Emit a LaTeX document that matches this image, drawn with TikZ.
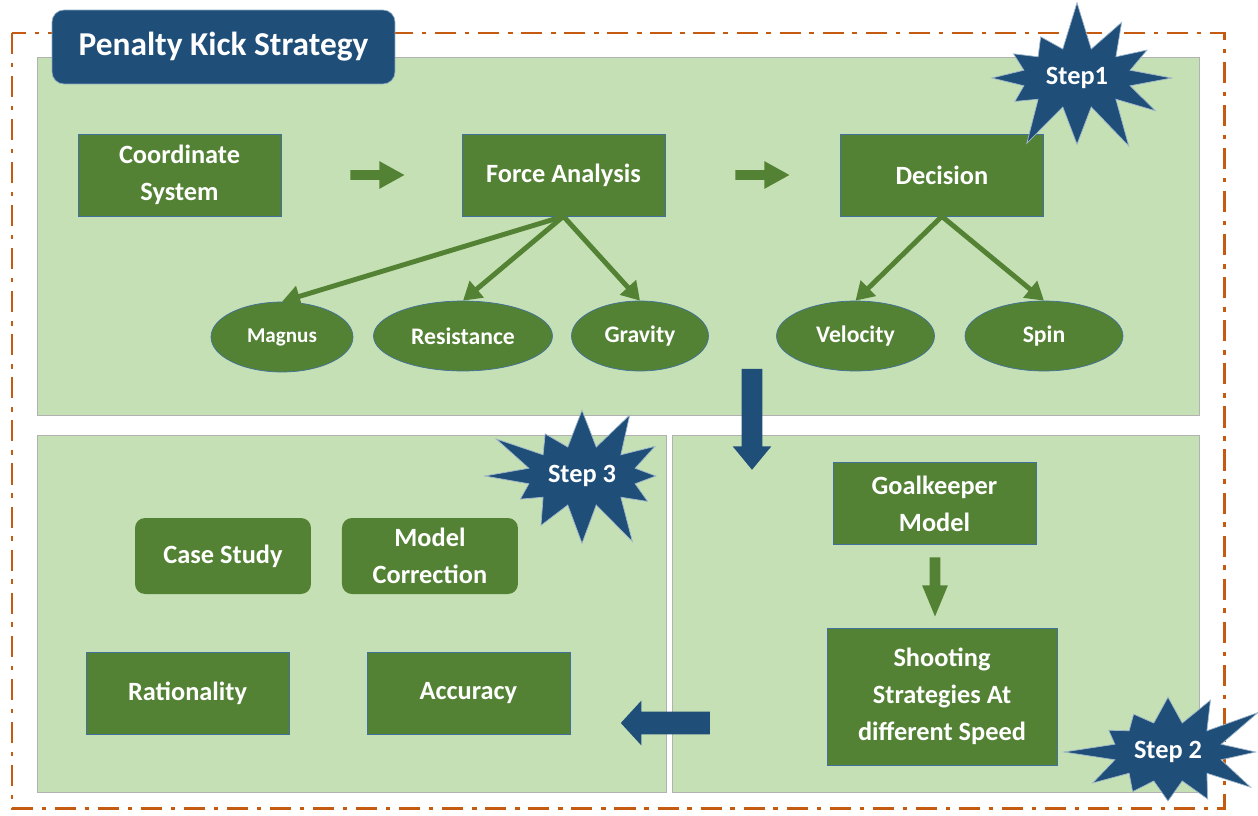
\documentclass[tikz,border=0pt]{standalone}
\usepackage{fontspec}
\setmainfont{Carlito}
\usetikzlibrary{arrows.meta, positioning, shapes.geometric, shapes.arrows, shapes.symbols}

\definecolor{panel}{HTML}{C5E0B4}
\definecolor{leaf}{HTML}{548235}
\definecolor{rim}{HTML}{41719C}
\definecolor{navy}{HTML}{1F4E79}
\definecolor{rust}{HTML}{C55A11}

\begin{document}
\begin{tikzpicture}[x=0.02cm, y=-0.02cm, on grid, text=white,
    box/.style={rectangle, fill=leaf, draw=rim, thin, align=center, minimum width=4.06cm, minimum height=1.64cm, font=\fontsize{15}{21}\selectfont\bfseries},
    rbox/.style={box, draw=none, rounded corners=0.2cm, minimum width=3.52cm, minimum height=1.52cm},
    oval/.style={ellipse, fill=leaf, draw=rim, thin, minimum width=3.16cm, minimum height=1.4cm, inner sep=0pt, font=\fontsize{13.5}{16}\selectfont\bfseries},
    burst/.style={starburst, starburst points=12, starburst point height=1cm, fill=navy, draw=rim!50, thin, minimum width=4.2cm, minimum height=3.2cm, inner sep=0pt, font=\fontsize{15}{18}\selectfont\bfseries},
    fat/.style={single arrow, draw=none, inner xsep=0pt, text width=0pt},
    link/.style={draw=leaf, line width=2.8pt, -{Triangle[length=0.36cm, width=0.42cm]}}]
  \useasboundingbox (0,0) rectangle (1258,815);

  % frame and panels
  \draw[rust, line width=1.7pt, dash pattern=on 12pt off 5pt on 2.5pt off 5pt] (12,33) rectangle (1224,808);
  \draw[black!30, fill=panel] (37,57) rectangle (1199,415);
  \draw[black!30, fill=panel] (37,435) rectangle (666,792);
  \draw[black!30, fill=panel] (672,435) rectangle (1199,792);

  \node[rectangle, rounded corners=0.24cm, fill=navy, draw=rim!60, minimum width=6.86cm, minimum height=1.48cm,
        font=\fontsize{19}{22}\selectfont\bfseries] (T) at (223.5,47) {Penalty Kick Strategy};

  % step 1
  \node[box] (CS) at (179.5,175) {Coordinate\\System};
  \node[box] (FA) [right=7.68cm of CS] {Force Analysis};
  \node[box] (DE) [right=7.57cm of FA] {Decision};
  \node[fat, fill=leaf, inner ysep=0.09cm, minimum height=1.08cm, single arrow head extend=0.18cm, single arrow tip angle=58] (a1) at (373,175) {};
  \node[fat, fill=leaf, inner ysep=0.09cm, minimum height=1.08cm, single arrow head extend=0.18cm, single arrow tip angle=58] (a2) at (758,175) {};

  \node[oval, minimum width=2.84cm, font=\fontsize{12}{14}\selectfont\bfseries] (MA) at (282,337) {Magnus};
  \node[oval, minimum width=3.58cm] (RE) at (463,336) {Resistance};
  \node[oval, minimum width=2.74cm] (GR) at (640,336) {Gravity};
  \node[oval] (VE) at (855.5,336) {Velocity};
  \node[oval] (SP) at (1044,336) {Spin};

  \path (FA.south) edge[link] (MA.north);
  \path (FA.south) edge[link] (RE.north);
  \path (FA.south) edge[link] (GR.north);
  \path (DE.south) edge[link] (VE.north);
  \path (DE.south) edge[link] (SP.north);

  \node[fat, fill=navy, inner ysep=0.2cm, minimum height=2.02cm, single arrow head extend=0.18cm, single arrow tip angle=79, rotate=-90] (a3) at (752,413) {};

  % step 2
  \node[box] (GK) at (934.5,503.5) {Goalkeeper\\Model};
  \node[fat, fill=leaf, inner ysep=0.1cm, minimum height=1.18cm, single arrow head extend=0.15cm, single arrow tip angle=45, rotate=-90] (a4) at (935,580.5) {};
  \node[box, minimum width=4.6cm, minimum height=2.74cm] (SS) at (942,696.5) {Shooting\\Strategies At\\different Speed};
  \node[fat, fill=navy, inner ysep=0.22cm, minimum height=1.78cm, single arrow head extend=0.22cm, single arrow tip angle=95, rotate=180] (a5) at (670.5,723) {};

  % step 3
  \node[rbox] (CST) at (223,556) {Case Study};
  \node[rbox] (MC) [right=4.14cm of CST] {Model\\Correction};
  \node[box] (RA) at (187.5,693) {Rationality};
  \node[box] (AC) [right=5.62cm of RA] {Accuracy};

  \node[burst, random starburst=7] (S1) at (1077,78) {Step1};
  \node[burst, random starburst=21] (S3) at (582,476) {Step 3};
  \node[burst, random starburst=45] (S2) at (1168,752) {Step 2};
\end{tikzpicture}
\end{document}
